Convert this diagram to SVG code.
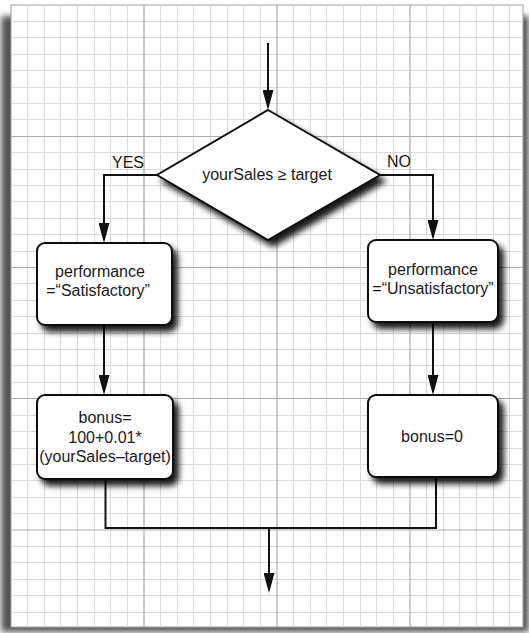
<svg xmlns="http://www.w3.org/2000/svg" width="529" height="633" viewBox="0 0 529 633">
  <defs>
    <style>
      .minor { stroke: #dadada; stroke-width: 1; fill: none; }
      .major { stroke: #acacac; stroke-width: 1.2; fill: none; }
      .node { fill: #ffffff; stroke: #111111; stroke-width: 2; filter: url(#shadow); }
      .conn { fill: none; stroke: #111111; stroke-width: 2; }
      .arrow { marker-end: url(#head); }
      text { font-family: "Liberation Sans", Arial, Helvetica, sans-serif; font-size: 16px; fill: #1a1a1a; }
      .c { text-anchor: middle; }
    </style>
    <filter id="shadow" x="-20%" y="-20%" width="150%" height="150%">
      <feDropShadow dx="5" dy="6" stdDeviation="3" flood-color="#000" flood-opacity="0.9"/>
    </filter>
    <filter id="paperShadow" x="-5%" y="-5%" width="110%" height="110%">
      <feGaussianBlur stdDeviation="3"/>
    </filter>
    <marker id="head" viewBox="0 0 20 11" refX="17" refY="5.5" markerWidth="20" markerHeight="11" markerUnits="userSpaceOnUse" orient="auto">
      <path d="M0,0 L20,5.5 L0,11 Z" fill="#111111"/>
    </marker>
  </defs>

  <rect width="529" height="633" fill="#ffffff"/>
  <!-- paper with shadow -->
  <rect x="1" y="16" width="528" height="616" fill="#555555" filter="url(#paperShadow)"/>
  <rect x="11" y="5" width="512" height="622" fill="#ffffff" stroke="#a0a0a0" stroke-width="1"/>

  <!-- grid -->
  <g id="grid">
    <path class="minor" d="M27.5 5V627M44.5 5V627M60.5 5V627M77.5 5V627M94.5 5V627M110.5 5V627M127.5 5V627M160.5 5V627M177.5 5V627M193.5 5V627M210.5 5V627M227.5 5V627M243.5 5V627M260.5 5V627M293.5 5V627M310.5 5V627M326.5 5V627M343.5 5V627M360.5 5V627M376.5 5V627M393.5 5V627M426.5 5V627M443.5 5V627M459.5 5V627M476.5 5V627M493.5 5V627M509.5 5V627
      M11 21.5H523M11 37.5H523M11 54.5H523M11 70.5H523M11 87.5H523M11 103.5H523M11 119.5H523M11 152.5H523M11 169.5H523M11 185.5H523M11 201.5H523M11 218.5H523M11 234.5H523M11 251.5H523M11 283.5H523M11 300.5H523M11 316.5H523M11 333.5H523M11 349.5H523M11 365.5H523M11 382.5H523M11 415.5H523M11 431.5H523M11 448.5H523M11 464.5H523M11 480.5H523M11 497.5H523M11 513.5H523M11 546.5H523M11 562.5H523M11 579.5H523M11 595.5H523M11 612.5H523"/>
    <path class="major" d="M144 5V627M277 5V627M410 5V627M11 136.5H523M11 267.5H523M11 398.5H523M11 530H523"/>
  </g>

  <!-- connectors -->
  <g id="connectors">
    <path class="conn arrow" d="M268 43V107"/>
    <path class="conn arrow" d="M157 175H104V240"/>
    <path class="conn arrow" d="M380 175H433V237"/>
    <path class="conn arrow" d="M104 325V392"/>
    <path class="conn arrow" d="M433 322V392"/>
    <path class="conn" d="M105.5 479V528H436V477"/>
    <path class="conn arrow" d="M269 528V590"/>
    <text x="112" y="168">YES</text>
    <text x="387" y="167">NO</text>
  </g>

  <!-- nodes -->
  <g id="decision">
    <polygon class="node" points="268,110 380,175 268,240 157,175"/>
    <text class="c" x="267" y="180">yourSales ≥ target</text>
  </g>
  <g id="perf-satisfactory">
    <rect class="node" x="37" y="243" width="135" height="82" rx="8"/>
    <text class="c" x="100" y="277">performance</text>
    <text class="c" x="98" y="296">=“Satisfactory”</text>
  </g>
  <g id="perf-unsatisfactory">
    <rect class="node" x="368" y="240" width="130" height="82" rx="8"/>
    <text class="c" x="433" y="275">performance</text>
    <text class="c" x="433" y="294">=“Unsatisfactory”</text>
  </g>
  <g id="bonus-calc">
    <rect class="node" x="37" y="395" width="136" height="84" rx="8"/>
    <text class="c" x="105" y="423">bonus=</text>
    <text class="c" x="105" y="443">100+0.01*</text>
    <text class="c" x="105" y="462">(yourSales–target)</text>
  </g>
  <g id="bonus-zero">
    <rect class="node" x="368" y="395" width="130" height="82" rx="8"/>
    <text class="c" x="432" y="442">bonus=0</text>
  </g>
</svg>
